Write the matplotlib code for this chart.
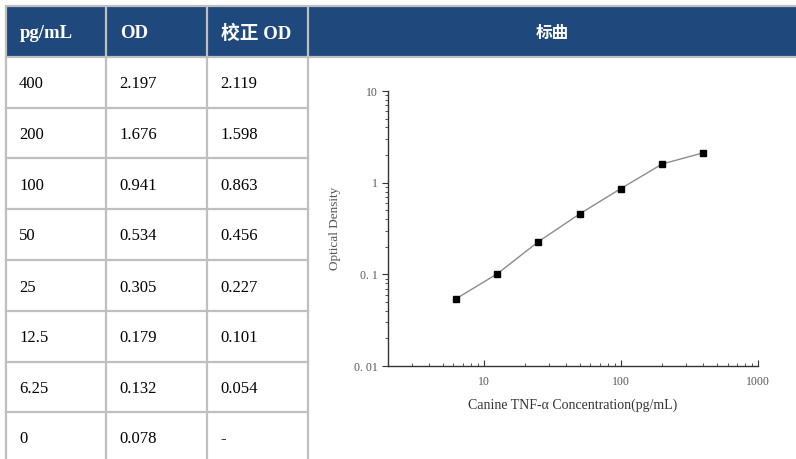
import numpy as np
import matplotlib.pyplot as plt
import matplotlib.ticker as mticker

plt.rcParams['font.family'] = ['Liberation Serif', 'Noto Sans CJK SC', 'DejaVu Sans']

# table data
headers = ["pg/mL", "OD", "校正 OD", "标曲"]
conc_labels = ["400", "200", "100", "50", "25", "12.5", "6.25", "0"]
od_labels = ["2.197", "1.676", "0.941", "0.534", "0.305", "0.179", "0.132", "0.078"]
corr_labels = ["2.119", "1.598", "0.863", "0.456", "0.227", "0.101", "0.054", "-"]

# standard curve points
conc = [6.25, 12.5, 25, 50, 100, 200, 400]
corr_od = [0.054, 0.101, 0.227, 0.456, 0.863, 1.598, 2.119]

W, H = 796, 459
header_blue = "#1F497D"
line_grey = "#BFBFBF"

fig = plt.figure(figsize=(W / 100, H / 100), dpi=100)

# table drawn in pixel space
tab = fig.add_axes([0, 0, 1, 1])
tab.set_xlim(0, W)
tab.set_ylim(H, 0)
tab.axis("off")

col_x = [6, 106, 207, 308, 796]
header_top, header_bot = 7, 57
row_y = [57, 108, 158, 209, 260, 311, 362, 412, 470]

# header band
tab.fill_between([col_x[0], col_x[-1]], header_top, header_bot, color=header_blue, lw=0)
tab.plot([col_x[0], col_x[-1]], [header_top - 1, header_top - 1], color=line_grey, lw=1.6)
tab.plot([col_x[0], col_x[-1]], [header_bot, header_bot], color=line_grey, lw=1.6)
for x in col_x[:-1]:
    tab.plot([x, x], [header_top, row_y[-1]], color=line_grey, lw=1.6)
for y in row_y[1:-1]:
    tab.plot([col_x[0], col_x[3]], [y, y], color=line_grey, lw=1.6)

hy = (header_top + header_bot) / 2 + 2
for i, h in enumerate(headers[:3]):
    tab.text(col_x[i] + 14, hy, h, color="white", fontsize=13.5, fontweight="bold",
             va="center", ha="left")
tab.text((col_x[3] + col_x[4]) / 2, hy, headers[3], color="white", fontsize=12,
         fontweight="bold", va="center", ha="center")

for r in range(len(conc_labels)):
    cy = (row_y[r] + row_y[r + 1]) / 2 + 2 if r < len(conc_labels) - 1 else 439
    for c, col in enumerate([conc_labels, od_labels, corr_labels]):
        tab.text(col_x[c] + 13, cy, col[r], color="black", fontsize=12,
                 va="center", ha="left")

# standard curve
ax = fig.add_axes([388 / W, 1 - 366 / H, (758 - 388) / W, (366 - 91) / H])
ax.plot(conc, corr_od, color="#8c8c8c", lw=1, zorder=1)
ax.plot(conc, corr_od, ls="none", marker="s", ms=5, color="black", zorder=2)
ax.set_xscale("log")
ax.set_yscale("log")
ax.set_xlim(2, 1000)
ax.set_ylim(0.01, 10)
for s in ["top", "right"]:
    ax.spines[s].set_visible(False)
for s in ["left", "bottom"]:
    ax.spines[s].set_color("#333333")
    ax.spines[s].set_linewidth(1)

ax.xaxis.set_major_locator(mticker.FixedLocator([10, 100, 1000]))
ax.xaxis.set_major_formatter(mticker.FixedFormatter(["10", "100", "1000"]))
ax.yaxis.set_major_locator(mticker.FixedLocator([0.01, 0.1, 1, 10]))
ax.yaxis.set_major_formatter(mticker.FixedFormatter(["0. 01", "0. 1", "1", "10"]))
ax.xaxis.set_minor_locator(mticker.LogLocator(base=10, subs=np.arange(2, 10)))
ax.yaxis.set_minor_locator(mticker.LogLocator(base=10, subs=np.arange(2, 10)))
ax.xaxis.set_minor_formatter(mticker.NullFormatter())
ax.yaxis.set_minor_formatter(mticker.NullFormatter())

ax.tick_params(axis="x", which="both", direction="in", color="#333333", labelsize=8.5,
               labelcolor="#555566", pad=7)
ax.tick_params(axis="x", which="major", length=4)
ax.tick_params(axis="x", which="minor", length=2.5)
ax.tick_params(axis="y", which="both", direction="out", color="#333333", labelsize=8.5,
               labelcolor="#555566")
ax.tick_params(axis="y", which="major", length=4)
ax.tick_params(axis="y", which="minor", length=2.5)

ax.set_xlabel("Canine TNF-α Concentration(pg/mL)", fontsize=10, color="#333333", labelpad=8)
ax.set_ylabel("Optical Density", fontsize=9.5, color="#555555", labelpad=9)

fig.savefig("out.png", dpi=100)
